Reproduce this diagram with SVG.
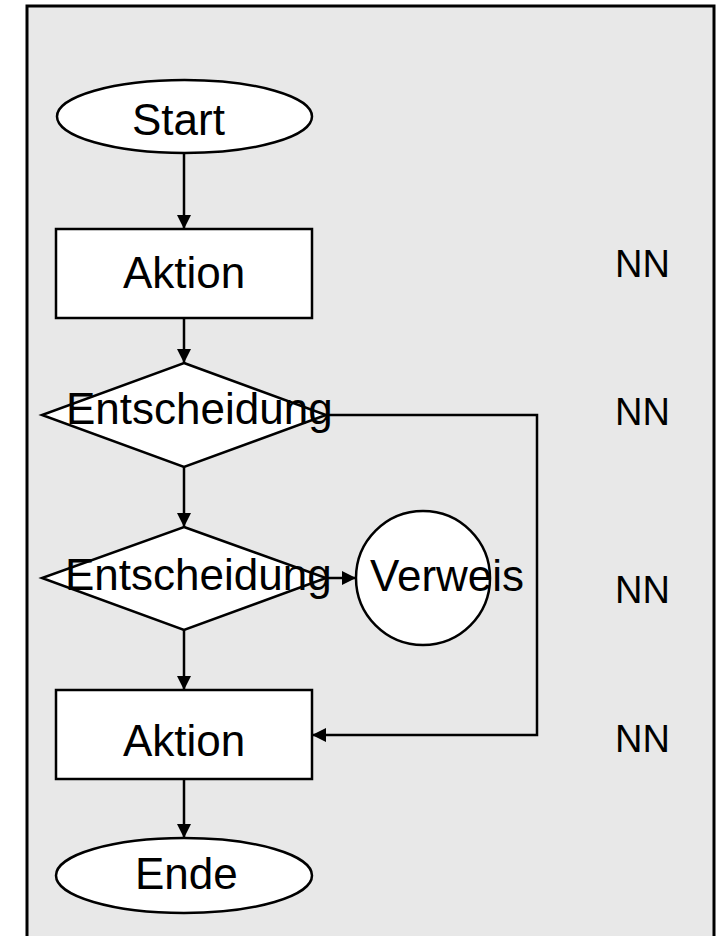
<svg xmlns="http://www.w3.org/2000/svg" width="720" height="936" viewBox="0 0 720 936">
  <defs>
    <marker id="arrow" viewBox="0 0 14 14" refX="14" refY="7" markerWidth="14" markerHeight="14" markerUnits="userSpaceOnUse" orient="auto">
      <path d="M0,0 L14,7 L0,14 z" fill="#000"/>
    </marker>
    <style>
      .shape { fill: #ffffff; stroke: #000; stroke-width: 2.5; }
      .conn { fill: none; stroke: #000; stroke-width: 2.5; }
      .lbl { font-family: "Liberation Sans", Arial, sans-serif; font-size: 44px; fill: #000; }
      .nn { font-family: "Liberation Sans", Arial, sans-serif; font-size: 38px; fill: #000; }
    </style>
  </defs>

  <rect id="frame" x="27" y="6" width="687" height="940" fill="#e8e8e8" stroke="#000" stroke-width="3"/>

  <g id="connectors">
    <line class="conn" x1="184" y1="153" x2="184" y2="229" marker-end="url(#arrow)"/>
    <line class="conn" x1="184" y1="318" x2="184" y2="363" marker-end="url(#arrow)"/>
    <line class="conn" x1="184" y1="467" x2="184" y2="527" marker-end="url(#arrow)"/>
    <line class="conn" x1="184" y1="630" x2="184" y2="690" marker-end="url(#arrow)"/>
    <line class="conn" x1="184" y1="779" x2="184" y2="838" marker-end="url(#arrow)"/>
    <polyline class="conn" points="326,415 537,415 537,735 312,735" marker-end="url(#arrow)"/>
    <line class="conn" x1="326" y1="578" x2="356" y2="578" marker-end="url(#arrow)"/>
  </g>

  <g id="start">
    <ellipse class="shape" cx="184.5" cy="116.5" rx="127.5" ry="36.5"/>
    <text class="lbl" x="132" y="135">Start</text>
  </g>

  <g id="aktion1">
    <rect class="shape" x="56" y="229" width="256" height="89"/>
    <text class="lbl" x="123" y="288">Aktion</text>
  </g>

  <g id="entscheidung1">
    <polygon class="shape" points="184,363 326,415 184,467 42,415"/>
    <text class="lbl" x="66" y="424">Entscheidung</text>
  </g>

  <g id="entscheidung2">
    <polygon class="shape" points="184,527 326,578 184,630 42,578"/>
    <text class="lbl" x="65" y="590">Entscheidung</text>
  </g>

  <g id="verweis">
    <circle class="shape" cx="423" cy="578" r="67"/>
    <text class="lbl" x="370" y="591">Verweis</text>
  </g>

  <g id="aktion2">
    <rect class="shape" x="56" y="690" width="256" height="89"/>
    <text class="lbl" x="123" y="756">Aktion</text>
  </g>

  <g id="ende">
    <ellipse class="shape" cx="184" cy="875.5" rx="128" ry="37.5"/>
    <text class="lbl" x="135" y="889">Ende</text>
  </g>

  <g id="nn-labels">
    <text class="nn" x="615" y="277">NN</text>
    <text class="nn" x="615" y="425">NN</text>
    <text class="nn" x="615" y="603">NN</text>
    <text class="nn" x="615" y="752">NN</text>
  </g>
</svg>
